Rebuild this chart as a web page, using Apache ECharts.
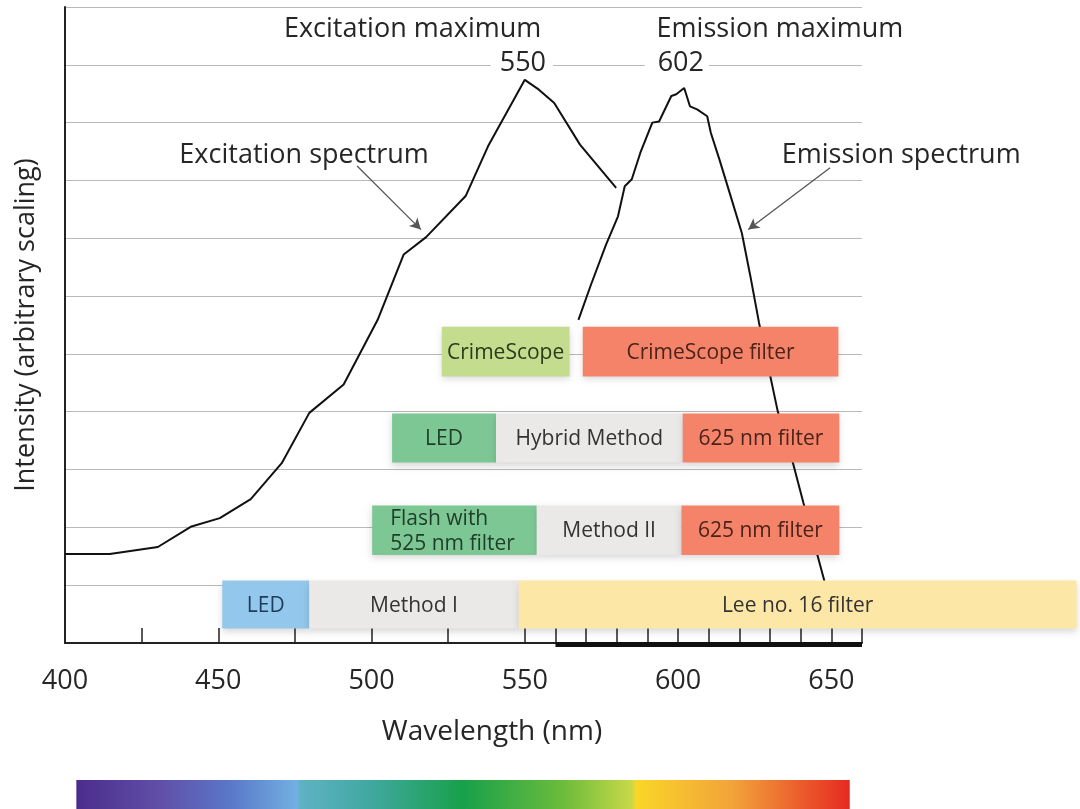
<!DOCTYPE html>
<html>
<head>
<meta charset="utf-8">
<script src="https://cdn.jsdelivr.net/npm/echarts@6/dist/echarts.min.js"></script>
<style>html,body{margin:0;padding:0;background:#fff}#c{width:1080px;height:809px}</style>
</head>
<body>
<div id="c"></div>
<script>
// ---------- data ----------
const excitationNm  = [400, 414.6, 430.3, 441, 450.5, 460.6, 470.7, 479.7, 490.9, 502, 510.5, 517.8, 530.7, 538, 550, 554.6, 559.6, 568, 579.8];
const excitationVal = [1.54, 1.54, 1.66, 2.01, 2.16, 2.49, 3.11, 3.98, 4.47, 5.59, 6.72, 7.02, 7.73, 8.59, 9.74, 9.57, 9.34, 8.62, 7.87];
const emissionNm    = [567.5, 571.4, 576.5, 580.4, 582.6, 584.9, 587.7, 591.6, 593.8, 597.8, 599.4, 602, 603.9, 606.2, 609.5, 610.7, 613.5, 616.8, 620.8, 623.6, 626.4, 632.5, 637.5, 640.9, 647.6, 651];
const emissionVal   = [5.59, 6.17, 6.89, 7.38, 7.9, 8.02, 8.48, 9.0, 9.02, 9.46, 9.49, 9.6, 9.28, 9.23, 9.11, 8.82, 8.36, 7.79, 7.09, 6.34, 5.54, 4.01, 3.11, 2.42, 1.10, 0.3];

const xLabelValues = [400, 450, 500, 550, 600, 650];
const xTickValues  = [425, 450, 475, 500, 525, 550, 560, 570, 580, 590, 600, 610, 620, 630, 640, 650, 660];

// rows of method bars: [low, high] intensity range of each row
const rowLow  = [4.61, 3.12, 1.52, 0.25];
const rowHigh = [5.47, 3.97, 2.38, 1.08];
// [row, start nm, end nm, label, kind]
const boxes = [
  [0, 522.9, 564.6, 'CrimeScope', 'scope'],
  [0, 568.9, 652.3, 'CrimeScope filter', 'filter'],
  [1, 506.7, 540.6, 'LED', 'led'],
  [1, 540.6, 601.5, 'Hybrid Method', 'method'],
  [1, 601.5, 652.6, '625 nm filter', 'filter'],
  [2, 500.2, 553.9, 'Flash with\n525 nm filter', 'led'],
  [2, 553.9, 601.1, 'Method II', 'method'],
  [2, 601.1, 652.6, '625 nm filter', 'filter'],
  [3, 451.3, 479.7, 'LED', 'ledBlue'],
  [3, 479.7, 548.0, 'Method I', 'method'],
  [3, 548.0, 730.0, 'Lee no. 16 filter', 'lee']
];

const spectrumRange = [403.7, 656];
const thickAxisRange = [560, 660];

// annotations: [text, nm, intensity, align]
const annotations = [
  ['Excitation maximum', 513.4, 10.61, 'center'],
  ['550', 559.2, 10.03, 'right'],
  ['Emission maximum', 593.0, 10.61, 'left'],
  ['602', 589.1, 10.03, 'left'],
  ['Excitation spectrum', 478.0, 8.43, 'center'],
  ['Emission spectrum', 672.8, 8.43, 'center']
];
// arrows: [from nm, from intensity, to nm, to intensity]
const arrows = [
  [495.3, 8.25, 516.1, 7.15],
  [649.6, 8.22, 622.9, 7.15]
];

// ---------- styles ----------
const FONT = '"Open Sans", "Noto Sans", sans-serif';
const TEXT = '#262626';
const boxStyle = {
  scope:   {fill: '#c3dc8e', text: '#2b3a1c'},
  filter:  {fill: '#f5836a', text: '#4a231a'},
  led:     {fill: '#7dc795', text: '#1f3d28'},
  method:  {fill: '#ebe9e8', text: '#333333'},
  ledBlue: {fill: '#93c8ec', text: '#1d3b5c'},
  lee:     {fill: '#fde7a6', text: '#333333'}
};

const chart = echarts.init(document.getElementById('c'), null, {renderer: 'canvas'});

const annData = annotations.map(a => ({
  value: [a[1], a[2]],
  label: {
    show: true, position: 'inside', formatter: a[0], align: a[3], verticalAlign: 'middle',
    fontSize: 27, fontFamily: FONT, color: TEXT,
    backgroundColor: (a[0] === '550' || a[0] === '602') ? '#fff' : 'transparent',
    padding: a[0] === '550' ? [0, 7, 0, 9] : (a[0] === '602' ? [0, 5, 0, 13] : 0)
  }
}));

chart.setOption({
  animation: false,
  backgroundColor: '#fff',
  grid: {left: 65, right: 218, top: 7, bottom: 166, containLabel: false},
  xAxis: {
    type: 'value', min: 400, max: 660,
    axisLine: {show: true, onZero: false, lineStyle: {color: '#222', width: 2}},
    axisTick: {show: true, inside: true, length: 15, customValues: xTickValues, lineStyle: {color: '#222', width: 1.5}},
    axisLabel: {customValues: xLabelValues, fontSize: 27, fontFamily: FONT, color: TEXT, margin: 25},
    splitLine: {show: false},
    name: 'Wavelength (nm)', nameLocation: 'middle', nameGap: 75,
    nameTextStyle: {fontSize: 28, fontFamily: FONT, color: TEXT, padding: [0, 0, 0, 57]}
  },
  yAxis: {
    type: 'value', min: 0, max: 11, interval: 1,
    axisLine: {show: true, lineStyle: {color: '#222', width: 2}},
    axisTick: {show: false},
    axisLabel: {show: false},
    splitLine: {show: true, lineStyle: {color: '#b9b9b9', width: 1.2}},
    name: 'Intensity (arbitrary scaling)', nameLocation: 'middle', nameGap: 25,
    nameTextStyle: {fontSize: 27, fontFamily: FONT, color: TEXT}
  },
  series: [
    {
      type: 'line', name: 'Excitation spectrum', z: 2,
      data: excitationNm.map((x, i) => [x, excitationVal[i]]),
      showSymbol: false, smooth: false,
      lineStyle: {color: '#111', width: 2},
      markLine: {
        silent: true, symbol: ['none', 'arrow'], symbolSize: [9, 11],
        lineStyle: {color: '#555', width: 1.3, type: 'solid'},
        label: {show: false},
        data: arrows.map(a => [{coord: [a[0], a[1]]}, {coord: [a[2], a[3]]}])
      }
    },
    {
      type: 'line', name: 'Emission spectrum', z: 2,
      data: emissionNm.map((x, i) => [x, emissionVal[i]]),
      showSymbol: false, smooth: false,
      lineStyle: {color: '#111', width: 2}
    },
    {
      type: 'custom', name: 'methods', z: 5, clip: false,
      data: boxes.map(b => [b[1], b[2], rowLow[b[0]], rowHigh[b[0]]]),
      renderItem: function (params, api) {
        const b = boxes[params.dataIndex];
        const st = boxStyle[b[4]];
        const p0 = api.coord([api.value(0), api.value(3)]);
        const p1 = api.coord([api.value(1), api.value(2)]);
        const w = p1[0] - p0[0], h = p1[1] - p0[1];
        const multi = b[3].indexOf('\n') >= 0;
        return {
          type: 'group',
          children: [
            {type: 'rect', shape: {x: p0[0], y: p0[1], width: w, height: h},
             style: {fill: st.fill, shadowBlur: 7, shadowColor: 'rgba(0,0,0,0.16)', shadowOffsetY: 3}},
            {type: 'text', x: multi ? p0[0] + 18 : p0[0] + w / 2, y: p0[1] + h / 2 + 1,
             style: {text: b[3], align: multi ? 'left' : 'center', verticalAlign: 'middle',
                     fontSize: 21, fontFamily: FONT, fill: st.text, lineHeight: 25}}
          ]
        };
      }
    },
    {
      type: 'custom', name: 'axisBar', z: 4, clip: false,
      data: [thickAxisRange],
      renderItem: function (params, api) {
        const a = api.coord([api.value(0), 0]);
        const b = api.coord([api.value(1), 0]);
        return {type: 'rect', shape: {x: a[0], y: a[1] - 1, width: b[0] - a[0], height: 5}, style: {fill: '#111'}};
      }
    },
    {
      type: 'custom', name: 'spectrum', z: 4, clip: false,
      data: [spectrumRange],
      renderItem: function (params, api) {
        const a = api.coord([api.value(0), 0]);
        const b = api.coord([api.value(1), 0]);
        return {
          type: 'rect',
          shape: {x: a[0], y: a[1] + 137, width: b[0] - a[0], height: 30},
          style: {
            fill: new echarts.graphic.LinearGradient(0, 0, 1, 0, [
              {offset: 0.00, color: '#4b2c8c'},
              {offset: 0.11, color: '#6050a8'},
              {offset: 0.20, color: '#5a78c8'},
              {offset: 0.285, color: '#72b0e2'},
              {offset: 0.29, color: '#5fb2c4'},
              {offset: 0.38, color: '#40a8a0'},
              {offset: 0.50, color: '#18a04a'},
              {offset: 0.63, color: '#6cbc3c'},
              {offset: 0.718, color: '#c8d848'},
              {offset: 0.724, color: '#fad628'},
              {offset: 0.85, color: '#f2a23a'},
              {offset: 1.00, color: '#e62a22'}
            ])
          }
        };
      }
    },
    {
      type: 'scatter', name: 'annotations', z: 6, clip: false,
      symbolSize: 0, silent: true,
      itemStyle: {opacity: 1},
      emphasis: {disabled: true},
      data: annData
    }
  ]
});
</script>
</body>
</html>
